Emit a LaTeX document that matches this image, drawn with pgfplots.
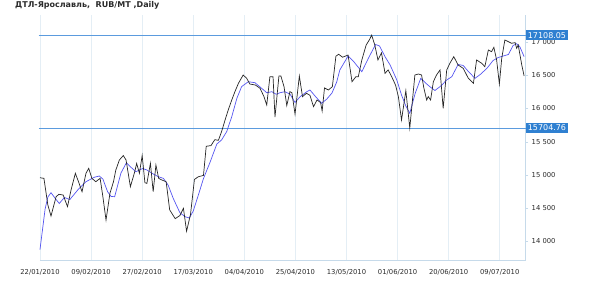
\documentclass[border=0pt]{standalone}
\usepackage{fontspec}
\setmainfont{DejaVu Sans}
\usepackage{pgfplots}
\pgfplotsset{compat=1.18}
\definecolor{gridc}{HTML}{E4EEF5}
\definecolor{axc}{HTML}{C6DAEA}
\definecolor{lvl}{HTML}{5B9BDE}
\definecolor{lvlbox}{HTML}{2F80D1}
\definecolor{ma}{HTML}{5555F0}
\definecolor{txt}{HTML}{2A2A2A}
\begin{document}
\begin{tikzpicture}
\begin{axis}[
  scale only axis, width=485.7pt, height=245pt,
  at={(0pt,0pt)}, anchor=south west,
  xmin=0, xmax=123.6, ymin=13713, ymax=17412,
  axis x line*=bottom, axis y line*=right,
  axis line style={draw=axc, line width=0.8pt},
  xtick={0,13,26,39,52,65,78,91,104,117},
  xticklabels={22/01/2010,09/02/2010,27/02/2010,17/03/2010,04/04/2010,25/04/2010,13/05/2010,01/06/2010,20/06/2010,09/07/2010},
  ytick={14000,14500,15000,15500,16000,16500,17000},
  scaled y ticks=false,
  yticklabel style={/pgf/number format/fixed, /pgf/number format/1000 sep={\ }},
  xmajorgrids, major grid style={draw=gridc, line width=0.8pt},
  x tick style={draw=none},
  y tick style={draw=axc},
  tick align=outside, major tick length=2.5pt,
  tick label style={font=\fontsize{6.8}{8}\selectfont, text=txt},
  xticklabel style={anchor=north, yshift=-3pt},
  /pgf/number format/assume math mode=true,
  clip=false,
]
\addplot[lvl, line width=0.9pt] coordinates {(-0.35,17108.05) (123.6,17108.05)};
\addplot[lvl, line width=0.9pt] coordinates {(-0.35,15704.76) (123.6,15704.76)};
\addplot[ma, line width=0.7pt] coordinates {
(0,13871) (1.3,14483) (2.0,14664) (2.8,14729) (3.8,14649) (4.9,14566) (6.2,14657) (7.6,14626)
(9.6,14770) (11.7,14895) (13.8,14962) (15.1,14981) (16.0,14935) (17.2,14744) (18.1,14672) (19.0,14669)
(20.6,15026) (22.0,15182) (23.2,15110) (24.4,15046) (26.1,15094) (27.2,15072) (28.5,15022) (30.1,14971)
(31.4,14946) (32.6,14845) (33.9,14644) (35.6,14427) (36.9,14367) (38.0,14347) (39.0,14453) (40.3,14694)
(41.6,14943) (43.3,15193) (45.0,15464) (46.2,15525) (47.5,15650) (48.8,15877) (50.1,16154) (51.3,16330)
(53.0,16405) (54.7,16390) (56.4,16305) (57.7,16239) (59.0,16254) (60.1,16215) (61.1,16239) (62.3,16254)
(63.6,16219) (64.9,16091) (66.2,16179) (67.9,16254) (68.7,16280) (70.2,16174) (71.7,16079) (73.0,16144)
(74.3,16234) (75.5,16400) (76.3,16582) (77.2,16672) (78.4,16793) (79.7,16718) (81.9,16556) (83.6,16763)
(85.4,16967) (86.4,16944) (87.8,16783) (89.1,16657) (90.8,16431) (92.0,16204) (93.1,16038) (94.1,15928)
(95.5,16234) (96.9,16456) (98.2,16381) (99.2,16330) (100.5,16272) (102.0,16340) (103.5,16431) (104.8,16481)
(106.4,16665) (107.7,16650) (109.0,16559) (110.7,16456) (112.2,16521) (113.9,16619) (115.3,16725) (116.6,16770)
(117.9,16793) (119.2,16816) (120.4,16952) (121.3,16979) (122.1,16934) (123.2,16783)
};
\addplot[black!85, line width=0.7pt] coordinates {
(0.0,14955) (1.0,14946) (2.0,14543) (2.8,14377) (4.1,14669) (4.8,14705) (5.9,14694) (7.0,14518)
(7.9,14770) (9.0,15022) (9.8,14895) (10.7,14744) (11.7,15022) (12.4,15097) (13.2,14946) (14.2,14895)
(15.3,14946) (16.0,14669) (16.8,14317) (17.8,14720) (18.7,14895) (19.3,15072) (20.2,15223) (21.2,15290)
(21.9,15223) (23.0,14820) (24.0,15022) (24.6,15170) (25.3,15022) (26.0,15290) (26.7,14880) (27.2,14870)
(28.1,15173) (28.8,14744) (29.5,15147) (30.2,14946) (31.0,14921) (32.1,14895) (33.0,14470) (34.4,14337)
(35.6,14385) (36.5,14493) (37.3,14148) (38.3,14400) (39.3,14930) (40.3,14970) (41.6,14990) (42.3,15430)
(43.5,15440) (44.5,15530) (45.4,15520) (46.2,15650) (47.1,15827) (47.9,15978) (48.8,16129) (49.6,16254)
(50.5,16381) (51.7,16506) (52.6,16456) (53.4,16370) (54.8,16355) (56.0,16305) (57.0,16179) (57.7,16053)
(58.5,16480) (59.3,16481) (59.8,15870) (60.8,16490) (61.3,16491) (62.1,16330) (62.8,16045) (63.6,16254)
(64.1,16240) (64.9,15915) (66.0,16490) (66.8,16179) (67.8,16230) (68.7,16200) (69.6,16028) (70.5,16129)
(71.4,16090) (71.8,15963) (72.4,16310) (73.4,16280) (74.4,16330) (75.3,16790) (76.0,16819) (77.0,16775)
(78.4,16808) (79.4,16405) (80.4,16481) (81.0,16480) (81.9,16733) (83.0,16959) (83.8,17035) (84.4,17108)
(85.2,16959) (86.0,16733) (86.9,16840) (87.8,16532) (88.6,16582) (89.5,16481) (90.5,16350) (91.2,16179)
(92.0,15827) (93.1,16270) (94.1,15705) (95.4,16506) (96.3,16521) (97.1,16506) (97.7,16305) (98.4,16129)
(98.8,16180) (99.4,16129) (100.1,16405) (100.9,16506) (101.8,16582) (102.6,16003) (103.5,16582) (104.3,16683)
(105.3,16783) (106.4,16657) (107.7,16607) (109.0,16456) (110.3,16381) (111.1,16733) (112.4,16683) (113.2,16632)
(114.1,16884) (114.9,16858) (115.5,16924) (116.2,16733) (116.9,16370) (117.5,16758) (118.3,17035) (119.2,17009)
(120.0,16985) (120.9,16995) (121.3,16909) (121.7,16959) (122.6,16657) (123.2,16491)
};
\node[fill=lvlbox, text=white, anchor=west, inner xsep=2pt, inner ysep=1.8pt, font=\fontsize{8}{9}\selectfont] at (axis cs:123.6,17108.05) {17108.05};
\node[fill=lvlbox, text=white, anchor=west, inner xsep=2pt, inner ysep=1.8pt, font=\fontsize{8}{9}\selectfont] at (axis cs:123.6,15704.76) {15704.76};
\end{axis}
\node[anchor=west, inner sep=0pt, font=\bfseries\fontsize{8}{9}\selectfont, text=txt] at (-25pt,255pt) {ДТЛ-Ярославль,\ \ RUB/MT ,Daily};
\pgfresetboundingbox
\useasboundingbox (-40pt,-30pt) rectangle (550pt,260pt);
\end{tikzpicture}
\end{document}
